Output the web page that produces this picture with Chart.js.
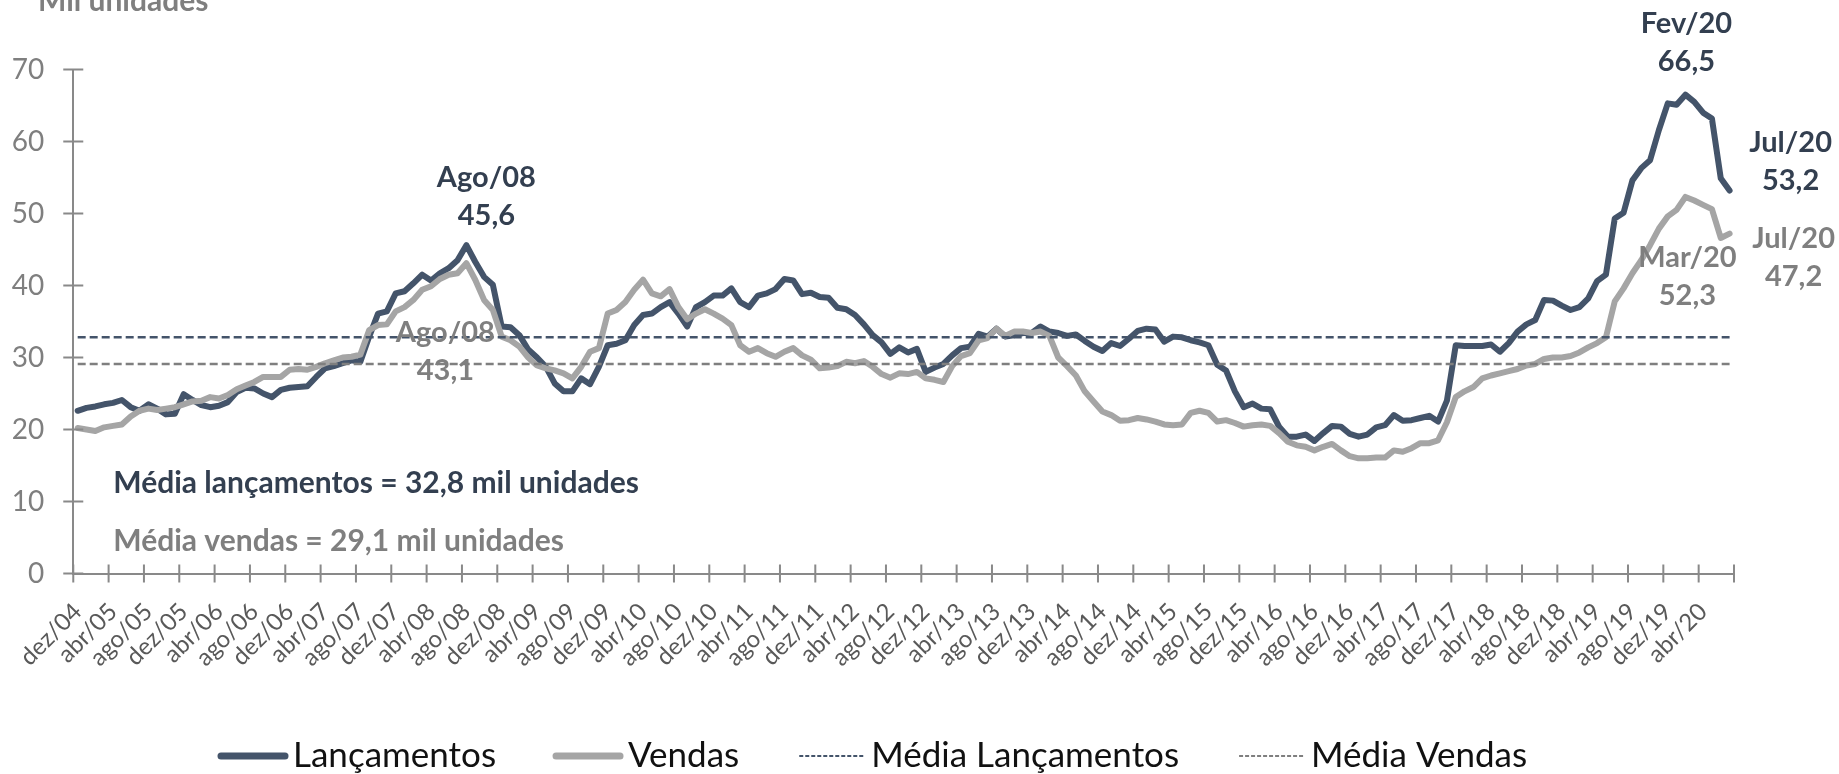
<!DOCTYPE html>
<html>
<head>
<meta charset="utf-8">
<script src="https://cdn.jsdelivr.net/npm/chart.js@4.4.1/dist/chart.umd.min.js"></script>
<style>
  html, body { margin: 0; padding: 0; background: #fff; }
  #wrap { width: 1839px; height: 774px; position: relative; }
</style>
</head>
<body>
<div id="wrap"><canvas id="chart"></canvas></div>
<script>
// Lançamentos e vendas mensais (mil unidades), dez/04 a jul/20
const lancamentos = [
  22.6, 23.0, 23.2, 23.5, 23.7, 24.1, 23.1, 22.6, 23.5, 22.9, 22.1, 22.2,
  24.9, 24.1, 23.4, 23.1, 23.3, 23.8, 25.2, 25.8, 25.7, 25.0, 24.5, 25.5,
  25.8, 25.9, 26.0, 27.3, 28.5, 28.8, 29.2, 29.6, 29.4, 32.9, 36.1, 36.4,
  38.9, 39.2, 40.3, 41.5, 40.7, 41.7, 42.4, 43.5, 45.6, 43.3, 41.2, 40.1,
  34.3, 34.2, 33.1, 31.1, 30.0, 28.7, 26.4, 25.3, 25.3, 27.1, 26.3, 28.7,
  31.7, 31.9, 32.4, 34.5, 35.9, 36.1, 37.0, 37.7, 36.1, 34.3, 37.0, 37.7,
  38.6, 38.6, 39.6, 37.7, 37.0, 38.6, 38.9, 39.5, 40.9, 40.7, 38.8, 39.0,
  38.4, 38.3, 36.9, 36.7, 35.9, 34.6, 33.1, 32.1, 30.5, 31.4, 30.7, 31.2,
  28.0, 28.6, 29.1, 30.3, 31.3, 31.5, 33.3, 32.9, 34.0, 32.9, 33.1, 33.4,
  33.4, 34.3, 33.6, 33.4, 33.0, 33.2, 32.3, 31.5, 30.9, 32.0, 31.6, 32.6,
  33.7, 34.0, 33.9, 32.2, 32.9, 32.8, 32.4, 32.1, 31.7, 29.0, 28.2, 25.3,
  23.1, 23.6, 22.9, 22.8, 20.4, 19.0, 19.0, 19.3, 18.4, 19.5, 20.5, 20.4,
  19.4, 19.0, 19.3, 20.3, 20.6, 22.0, 21.2, 21.3, 21.6, 21.9, 21.1, 24.0,
  31.7, 31.6, 31.6, 31.6, 31.8, 30.8, 32.0, 33.6, 34.6, 35.2, 38.0, 37.9,
  37.2, 36.6, 37.0, 38.2, 40.6, 41.5, 49.3, 50.1, 54.6, 56.3, 57.4, 61.6,
  65.3, 65.1, 66.5, 65.5, 64.0, 63.2, 54.9, 53.2
];
const vendas = [
  20.2, 20.0, 19.8, 20.3, 20.5, 20.7, 21.8, 22.6, 22.9, 22.7, 22.9, 23.1,
  23.5, 23.9, 24.0, 24.5, 24.3, 24.8, 25.6, 26.1, 26.6, 27.3, 27.3, 27.3,
  28.3, 28.4, 28.3, 28.7, 29.2, 29.6, 30.0, 30.1, 30.4, 33.8, 34.5, 34.6,
  36.4, 37.0, 38.0, 39.4, 39.9, 40.9, 41.5, 41.7, 43.1, 40.8, 38.0, 36.6,
  32.9, 32.4, 31.5, 30.0, 28.9, 28.5, 28.2, 27.8, 27.1, 28.7, 30.8, 31.3,
  36.1, 36.6, 37.7, 39.4, 40.8, 38.9, 38.5, 39.5, 37.0, 35.3, 36.1, 36.7,
  36.1, 35.4, 34.5, 31.7, 30.8, 31.3, 30.6, 30.1, 30.8, 31.3, 30.3, 29.7,
  28.5, 28.6, 28.8, 29.4, 29.2, 29.5, 28.7, 27.7, 27.2, 27.8, 27.7, 28.0,
  27.1, 26.9, 26.6, 28.8, 30.2, 30.6, 32.4, 32.7, 34.0, 33.0, 33.6, 33.6,
  33.4, 33.6, 33.0, 30.0, 28.8, 27.5, 25.3, 23.9, 22.5, 22.0, 21.2, 21.3,
  21.6, 21.4, 21.1, 20.7, 20.6, 20.7, 22.3, 22.6, 22.3, 21.1, 21.3, 20.9,
  20.4, 20.6, 20.7, 20.5, 19.5, 18.3, 17.8, 17.6, 17.1, 17.6, 18.0, 17.1,
  16.3, 16.0, 16.0, 16.1, 16.1, 17.1, 16.9, 17.4, 18.1, 18.1, 18.5, 21.0,
  24.5, 25.3, 25.9, 27.1, 27.5, 27.8, 28.1, 28.4, 28.9, 29.1, 29.8, 30.0,
  30.0, 30.2, 30.7, 31.4, 32.0, 32.8, 37.8, 39.6, 41.7, 43.5, 45.6, 47.9,
  49.6, 50.5, 52.3, 51.8, 51.2, 50.6, 46.6, 47.2
];
const mediaLancamentos = 32.8;
const mediaVendas = 29.1;

// Categorias: meses a partir de dez/04
const meses = ['jan', 'fev', 'mar', 'abr', 'mai', 'jun', 'jul', 'ago', 'set', 'out', 'nov', 'dez'];
const labels = [];
for (let k = 0; k < lancamentos.length; k++) {
  const t = 2004 * 12 + 11 + k;
  labels.push(meses[t % 12] + '/' + String(Math.floor(t / 12) % 100).padStart(2, '0'));
}
const yTicks = [0, 10, 20, 30, 40, 50, 60, 70];

// Rótulos de destaque (série, índice do mês, texto)
const destaques = [
  { serie: 0, indice: 44, texto: ['Ago/08', '45,6'] },
  { serie: 1, indice: 44, texto: ['Ago/08', '43,1'] },
  { serie: 0, indice: 182, texto: ['Fev/20', '66,5'] },
  { serie: 0, indice: 187, texto: ['Jul/20', '53,2'] },
  { serie: 1, indice: 182, texto: ['Mar/20', '52,3'] },
  { serie: 1, indice: 187, texto: ['Jul/20', '47,2'] }
];
const notas = [
  'Média lançamentos = 32,8 mil unidades',
  'Média vendas = 29,1 mil unidades'
];

// Estilos
const FONT = "Lato, 'Noto Sans', sans-serif";
const corEscura = '#44546a';
const corTextoEscuro = '#333f50';
const corCinza = '#a5a5a5';
const corTextoCinza = '#7f7f7f';
const corEixo = '#898989';
// deslocamentos dos rótulos em relação ao ponto (px)
const posDestaques = [
  { dx: 20, dy: -58 },
  { dx: -21, dy: 79 },
  { dx: 1, dy: -62 },
  { dx: 61, dy: -38 },
  { dx: 2, dy: 70 },
  { dx: 64, dy: 14 }
];

const extras = {
  id: 'extras',
  afterDraw(chart) {
    const { ctx, chartArea: a, scales: { x, y } } = chart;
    ctx.save();

    // marcas dos eixos (cruzando a linha)
    ctx.strokeStyle = corEixo;
    ctx.lineWidth = 2;
    ctx.beginPath();
    yTicks.forEach(v => {
      const py = y.getPixelForValue(v);
      ctx.moveTo(a.left - 10, py);
      ctx.lineTo(a.left + 10, py);
    });
    const w = x.getPixelForValue(1) - x.getPixelForValue(0);
    const x0 = x.getPixelForValue(0) - w / 2;
    for (let k = 0; k <= labels.length; k += 4) {
      const px = x0 + k * w;
      ctx.moveTo(px, a.bottom - 9);
      ctx.lineTo(px, a.bottom + 9);
    }
    ctx.stroke();

    // rótulos de destaque
    ctx.font = 'bold 29px ' + FONT;
    ctx.textAlign = 'center';
    ctx.textBaseline = 'alphabetic';
    destaques.forEach((d, i) => {
      const serie = chart.data.datasets[d.serie].data;
      const px = x.getPixelForValue(d.indice);
      const py = y.getPixelForValue(serie[d.indice]);
      const p = posDestaques[i];
      ctx.fillStyle = d.serie === 0 ? corTextoEscuro : corTextoCinza;
      d.texto.forEach((t, j) => ctx.fillText(t, px + p.dx, py + p.dy + j * 38));
    });

    // notas das médias
    ctx.font = 'bold 30px ' + FONT;
    ctx.textAlign = 'left';
    ctx.fillStyle = corTextoEscuro;
    ctx.fillText(notas[0], a.left + 40, 493);
    ctx.fillStyle = corTextoCinza;
    ctx.fillText(notas[1], a.left + 40, 551);

    // unidade
    ctx.fillText('Mil unidades', 38, 11);

    // legenda
    ctx.font = '35px ' + FONT;
    let lx = 218;
    const ly = 756;
    chart.data.datasets.forEach(ds => {
      ctx.save();
      ctx.strokeStyle = ds.borderColor;
      if (ds.borderDash) {
        ctx.lineWidth = 2;
        ctx.setLineDash([4, 2]);
        ctx.lineCap = 'butt';
      } else {
        ctx.lineWidth = 7;
        ctx.lineCap = 'round';
      }
      ctx.beginPath();
      ctx.moveTo(lx + 3, ly);
      ctx.lineTo(lx + 67, ly);
      ctx.stroke();
      ctx.restore();
      ctx.fillStyle = '#111';
      ctx.fillText(ds.label, lx + 75, 767);
      lx += 75 + ctx.measureText(ds.label).width + 57;
    });

    ctx.restore();
  }
};

new Chart(document.getElementById('chart'), {
  type: 'line',
  data: {
    labels: labels,
    datasets: [
      { label: 'Lançamentos', data: lancamentos, borderColor: corEscura, borderWidth: 6, order: 4, borderCapStyle: 'round' },
      { label: 'Vendas', data: vendas, borderColor: corCinza, borderWidth: 6, order: 3, borderCapStyle: 'round' },
      { label: 'Média Lançamentos', data: labels.map(() => mediaLancamentos), borderColor: corEscura, borderWidth: 2.5, borderDash: [8, 4], order: 2 },
      { label: 'Média Vendas', data: labels.map(() => mediaVendas), borderColor: corTextoCinza, borderWidth: 2.5, borderDash: [8, 4], order: 1 }
    ]
  },
  options: {
    responsive: true,
    maintainAspectRatio: false,
    animation: false,
    devicePixelRatio: 1,
    layout: { padding: { top: 69.5, right: 105, bottom: 0, left: 0 } },
    elements: {
      point: { radius: 0 },
      line: { tension: 0, borderJoinStyle: 'round', fill: false }
    },
    plugins: { legend: { display: false }, tooltip: { enabled: false } },
    scales: {
      x: {
        type: 'category',
        offset: true,
        grid: { display: false, drawTicks: false },
        border: { display: true, color: corEixo, width: 2 },
        ticks: {
          autoSkip: false, minRotation: 45, maxRotation: 45, padding: 24,
          color: '#595959', font: { family: FONT, size: 24 },
          callback: function (v, i) { return i % 4 === 0 ? this.getLabelForValue(v) : ''; }
        },
        afterFit: s => { s.height = 200.5; }
      },
      y: {
        min: 0, max: 70,
        grid: { display: false, drawTicks: false },
        border: { display: true, color: corEixo, width: 2 },
        ticks: { stepSize: 10, padding: 29, color: corTextoCinza, font: { family: FONT, size: 28 } },
        afterFit: s => { s.width = 73; }
      }
    }
  },
  plugins: [extras]
});
</script>
</body>
</html>
